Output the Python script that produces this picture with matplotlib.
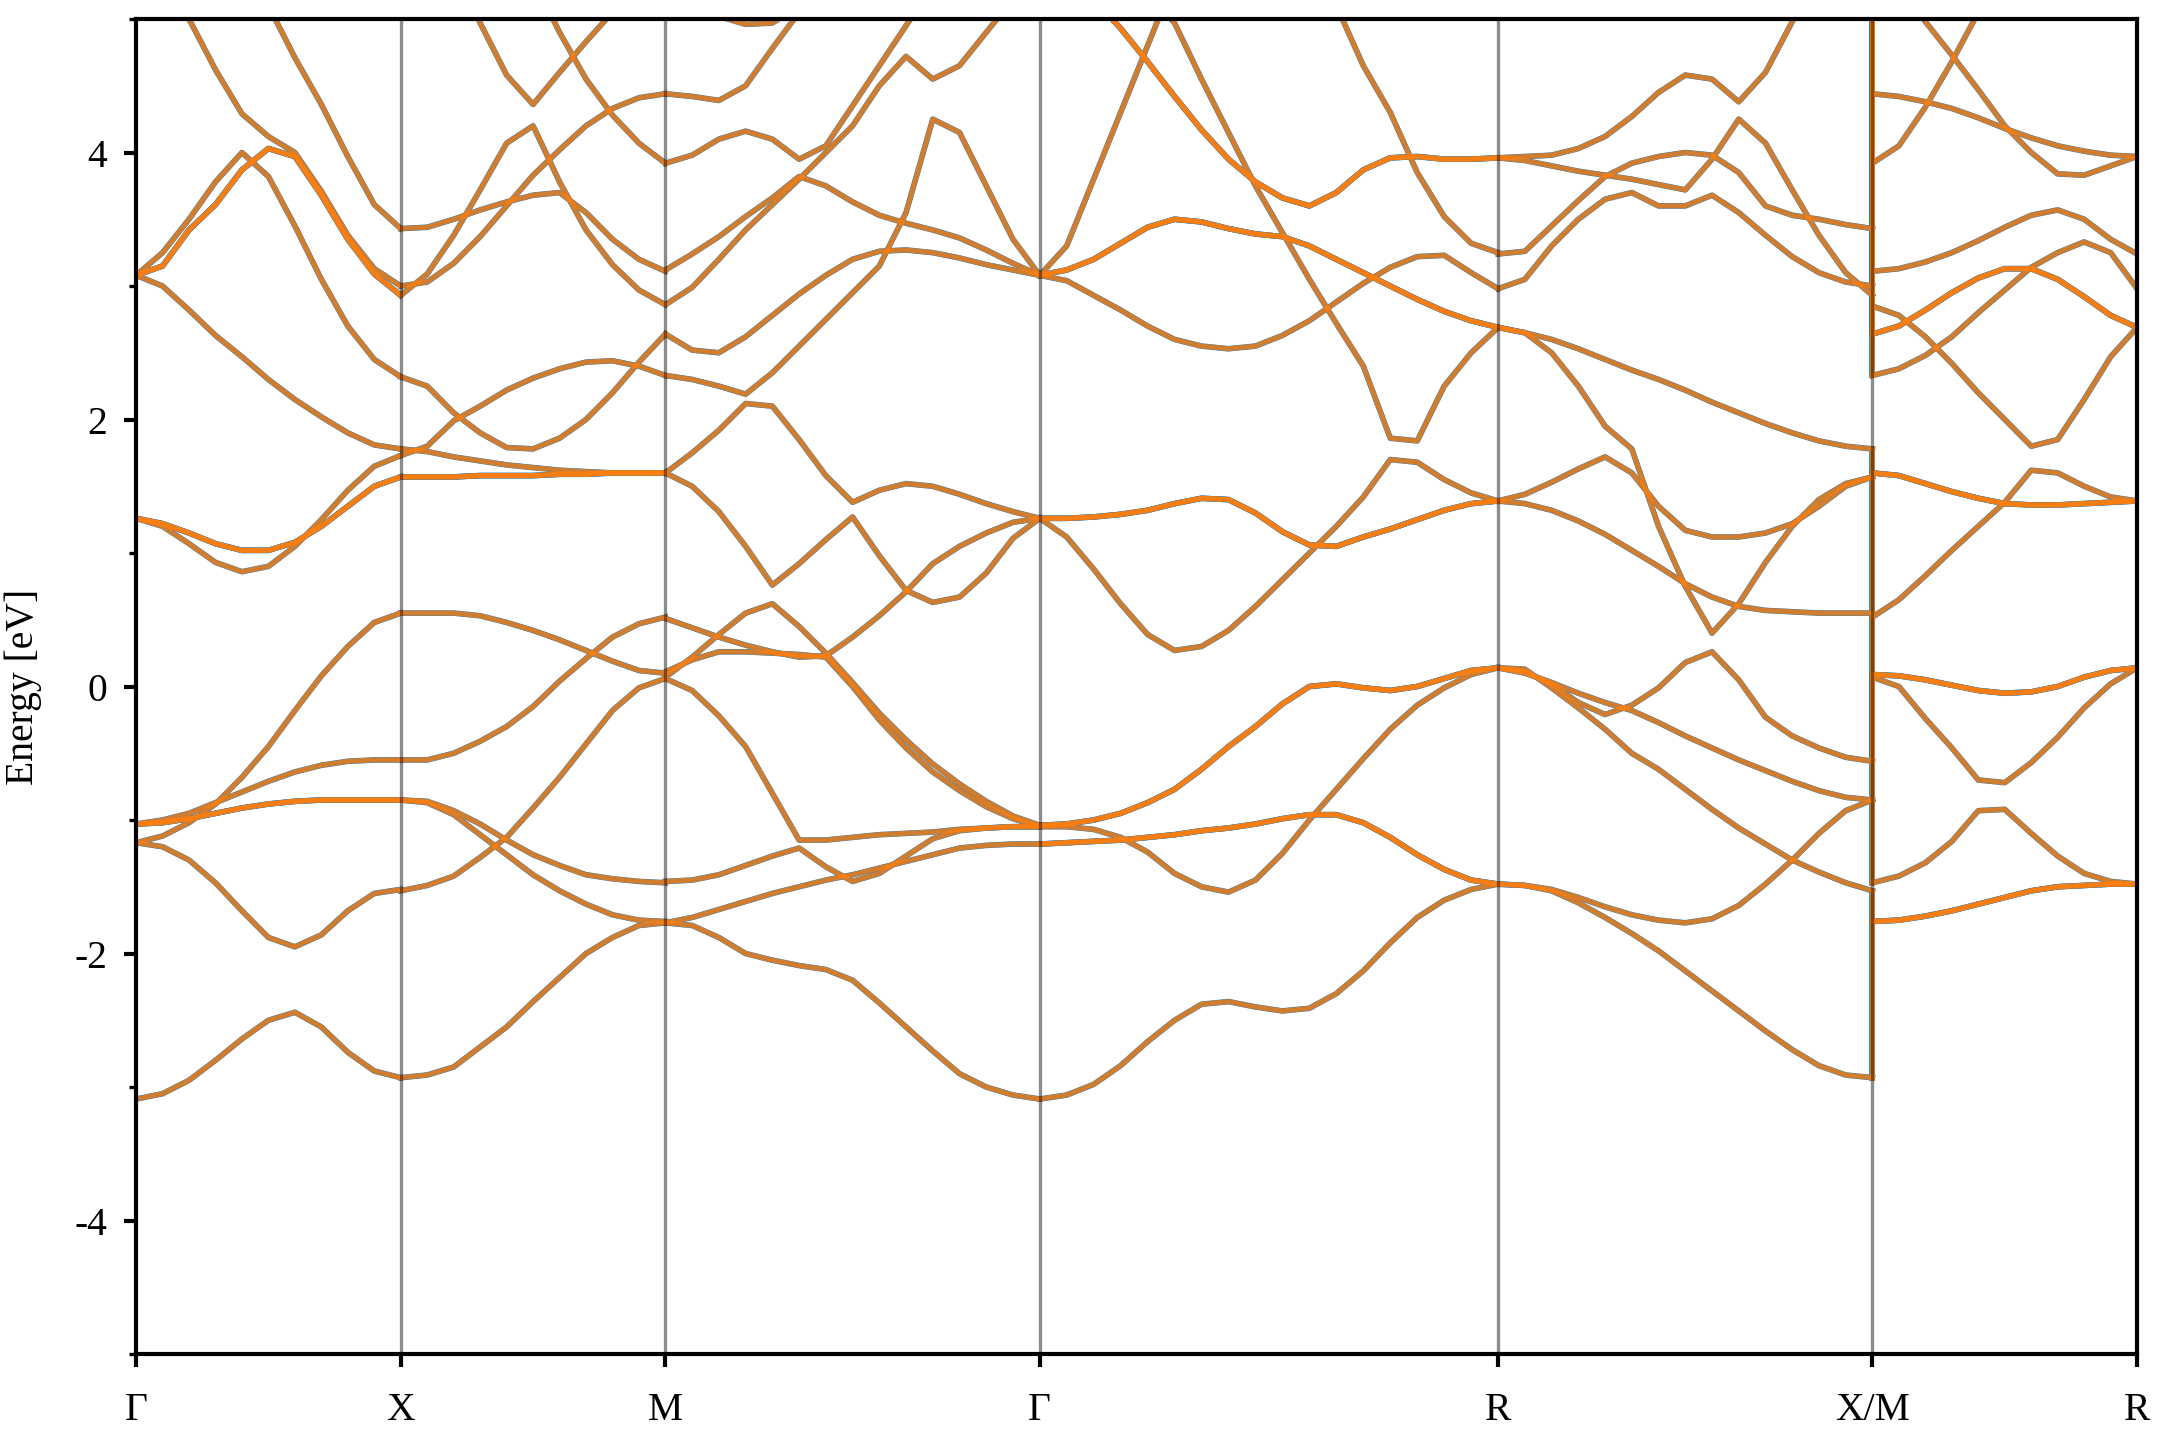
import numpy as np
import matplotlib.pyplot as plt

plt.rcParams['font.family'] = ['Liberation Serif', 'DejaVu Serif']
plt.rcParams['axes.unicode_minus'] = False

# k-path, segment lengths in units of |Gamma-X|
labels = ["Γ", "X", "M", "Γ", "R", "X/M", "R"]
seg_len = [1.0, 1.0, np.sqrt(2), np.sqrt(3), np.sqrt(2), 1.0]

# energies (eV) read along each segment, evenly spaced in k
gx = [
    [-3.09, -3.05, -2.95, -2.80, -2.64, -2.50, -2.44, -2.55, -2.74, -2.88, -2.93],
    [-1.17, -1.20, -1.30, -1.47, -1.68, -1.88, -1.95, -1.86, -1.68, -1.55, -1.52],
    [-1.17, -1.12, -1.02, -0.88, -0.68, -0.45, -0.18, 0.08, 0.30, 0.48, 0.55],
    [-1.03, -1.02, -0.99, -0.95, -0.91, -0.88, -0.86, -0.85, -0.85, -0.85, -0.85],
    [-1.03, -1.00, -0.95, -0.87, -0.79, -0.71, -0.64, -0.59, -0.56, -0.55, -0.55],
    [1.26, 1.20, 1.07, 0.93, 0.86, 0.90, 1.05, 1.25, 1.47, 1.65, 1.73],
    [1.26, 1.22, 1.15, 1.07, 1.02, 1.02, 1.08, 1.20, 1.35, 1.50, 1.57],
    [3.08, 3.00, 2.82, 2.63, 2.47, 2.30, 2.15, 2.02, 1.90, 1.81, 1.78],
    [3.08, 3.25, 3.50, 3.78, 4.00, 3.82, 3.45, 3.05, 2.70, 2.45, 2.32],
    [3.08, 3.15, 3.42, 3.61, 3.87, 4.03, 3.97, 3.68, 3.35, 3.09, 2.93],
    [5.90, 5.45, 5.00, 4.62, 4.29, 4.12, 4.00, 3.71, 3.38, 3.13, 3.00],
    [6.60, 6.20, 5.90, 5.60, 5.35, 5.10, 4.71, 4.36, 3.97, 3.61, 3.43],
]
gx_deg = [1, 1, 1, 2, 1, 1, 2, 1, 1, 2, 1, 1]

xm = [
    [-2.93, -2.91, -2.85, -2.70, -2.55, -2.36, -2.18, -2.00, -1.88, -1.79, -1.77],
    [-1.53, -1.49, -1.42, -1.28, -1.13, -0.91, -0.68, -0.43, -0.18, -0.01, 0.06],
    [-0.85, -0.86, -0.93, -1.03, -1.15, -1.26, -1.34, -1.41, -1.44, -1.46, -1.47],
    [-0.85, -0.87, -0.96, -1.11, -1.26, -1.41, -1.53, -1.63, -1.71, -1.75, -1.76],
    [-0.55, -0.55, -0.50, -0.41, -0.30, -0.15, 0.04, 0.21, 0.37, 0.47, 0.52],
    [0.55, 0.55, 0.55, 0.53, 0.48, 0.42, 0.35, 0.27, 0.19, 0.12, 0.10],
    [1.57, 1.57, 1.57, 1.58, 1.58, 1.58, 1.59, 1.59, 1.60, 1.60, 1.60],
    [1.78, 1.76, 1.72, 1.69, 1.66, 1.64, 1.62, 1.61, 1.60, 1.60, 1.60],
    [1.73, 1.80, 1.99, 2.10, 2.22, 2.31, 2.38, 2.43, 2.44, 2.40, 2.33],
    [2.32, 2.25, 2.05, 1.90, 1.79, 1.78, 1.86, 2.00, 2.20, 2.43, 2.64],
    [2.93, 3.09, 3.38, 3.72, 4.07, 4.20, 3.78, 3.42, 3.16, 2.97, 2.86],
    [3.00, 3.03, 3.17, 3.37, 3.60, 3.83, 4.02, 4.20, 4.33, 4.41, 4.44],
    [3.43, 3.44, 3.50, 3.57, 3.63, 3.68, 3.70, 3.55, 3.35, 3.20, 3.11],
    [6.00, 5.75, 5.45, 4.97, 4.58, 4.36, 4.60, 4.83, 5.05, 5.25, 5.45],
    [6.60, 6.40, 6.20, 5.90, 5.60, 5.30, 4.90, 4.55, 4.28, 4.07, 3.92],
]
xm_deg = [1, 1, 1, 1, 1, 1, 2, 1, 1, 1, 1, 1, 1, 1, 1]

mg = [
    [-1.77, -1.79, -1.88, -2.00, -2.05, -2.09, -2.12, -2.20, -2.37, -2.55, -2.73, -2.90, -3.00, -3.06, -3.09],
    [-1.77, -1.73, -1.67, -1.61, -1.55, -1.50, -1.45, -1.41, -1.36, -1.31, -1.26, -1.21, -1.19, -1.18, -1.18],
    [-1.46, -1.45, -1.41, -1.34, -1.27, -1.21, -1.35, -1.46, -1.40, -1.27, -1.14, -1.08, -1.06, -1.05, -1.05],
    [0.06, -0.03, -0.22, -0.45, -0.80, -1.15, -1.15, -1.13, -1.11, -1.10, -1.09, -1.07, -1.06, -1.05, -1.05],
    [0.51, 0.44, 0.37, 0.31, 0.26, 0.22, 0.23, 0.37, 0.53, 0.71, 0.92, 1.05, 1.15, 1.23, 1.26],
    [0.07, 0.22, 0.39, 0.55, 0.62, 0.45, 0.25, 0.03, -0.20, -0.40, -0.58, -0.73, -0.86, -0.97, -1.04],
    [0.11, 0.20, 0.26, 0.26, 0.25, 0.24, 0.22, 0.00, -0.25, -0.46, -0.64, -0.78, -0.90, -0.99, -1.05],
    [1.60, 1.50, 1.31, 1.05, 0.76, 0.92, 1.10, 1.27, 0.98, 0.72, 0.63, 0.67, 0.85, 1.11, 1.26],
    [1.60, 1.75, 1.92, 2.12, 2.10, 1.85, 1.58, 1.38, 1.47, 1.52, 1.50, 1.44, 1.37, 1.31, 1.26],
    [2.33, 2.30, 2.25, 2.19, 2.35, 2.55, 2.75, 2.95, 3.15, 3.55, 4.25, 4.15, 3.75, 3.35, 3.08],
    [2.64, 2.52, 2.50, 2.62, 2.78, 2.94, 3.08, 3.20, 3.26, 3.27, 3.25, 3.21, 3.16, 3.12, 3.08],
    [2.86, 2.99, 3.20, 3.42, 3.61, 3.80, 4.00, 4.20, 4.50, 4.72, 4.55, 4.65, 4.90, 5.15, 5.40],
    [5.50, 5.20, 5.02, 4.96, 4.97, 5.10, 5.30, 5.50, 5.70, 5.90, 6.10, 6.30, 6.40, 6.50, 6.60],
    [4.44, 4.42, 4.39, 4.50, 4.78, 5.05, 5.30, 5.50, 5.70, 5.90, 6.10, 6.20, 6.30, 6.40, 6.50],
    [3.92, 3.98, 4.10, 4.16, 4.10, 3.95, 4.05, 4.35, 4.65, 4.95, 5.25, 5.50, 5.70, 5.90, 6.10],
    [3.12, 3.24, 3.37, 3.52, 3.66, 3.82, 3.75, 3.63, 3.53, 3.47, 3.42, 3.36, 3.27, 3.17, 3.08],
]
mg_deg = [1] * len(mg)

gr = [
    [-3.09, -3.06, -2.98, -2.84, -2.66, -2.50, -2.38, -2.36, -2.40, -2.43, -2.41, -2.30, -2.13, -1.92, -1.73, -1.60, -1.52, -1.48],
    [-1.18, -1.17, -1.16, -1.15, -1.13, -1.11, -1.08, -1.06, -1.03, -0.99, -0.96, -0.96, -1.02, -1.13, -1.26, -1.37, -1.45, -1.48],
    [-1.05, -1.05, -1.07, -1.13, -1.24, -1.40, -1.50, -1.54, -1.45, -1.25, -1.00, -0.77, -0.54, -0.32, -0.14, -0.01, 0.09, 0.14],
    [-1.04, -1.03, -1.00, -0.95, -0.87, -0.77, -0.62, -0.45, -0.30, -0.13, 0.00, 0.02, -0.01, -0.03, 0.00, 0.06, 0.12, 0.14],
    [1.26, 1.26, 1.27, 1.29, 1.32, 1.37, 1.41, 1.40, 1.30, 1.16, 1.06, 1.05, 1.12, 1.18, 1.25, 1.32, 1.37, 1.39],
    [1.26, 1.12, 0.88, 0.62, 0.39, 0.27, 0.30, 0.42, 0.60, 0.80, 1.00, 1.20, 1.42, 1.70, 1.68, 1.55, 1.45, 1.39],
    [6.00, 5.80, 5.60, 5.40, 5.20, 4.97, 4.55, 4.15, 3.75, 3.40, 3.05, 2.72, 2.40, 1.86, 1.84, 2.25, 2.50, 2.69],
    [3.08, 3.12, 3.20, 3.32, 3.44, 3.50, 3.48, 3.43, 3.39, 3.37, 3.30, 3.20, 3.10, 3.00, 2.90, 2.81, 2.74, 2.69],
    [3.08, 3.04, 2.93, 2.82, 2.70, 2.60, 2.55, 2.53, 2.55, 2.63, 2.74, 2.88, 3.02, 3.14, 3.22, 3.23, 3.10, 2.98],
    [3.08, 3.30, 3.80, 4.30, 4.80, 5.30, 5.70, 6.10, 6.40, 6.60, 6.80, 7.00, 7.00, 7.00, 7.00, 7.00, 7.00, 7.00],
    [5.70, 5.45, 5.15, 4.93, 4.68, 4.42, 4.17, 3.95, 3.78, 3.66, 3.60, 3.70, 3.87, 3.96, 3.97, 3.95, 3.95, 3.96],
    [7.00, 7.00, 7.00, 7.00, 7.00, 6.80, 6.60, 6.40, 6.10, 5.80, 5.45, 5.10, 4.65, 4.30, 3.85, 3.52, 3.32, 3.25],
]
gr_deg = [1, 2, 1, 2, 2, 1, 1, 2, 1, 1, 2, 1]

rx = [
    [-1.48, -1.49, -1.53, -1.62, -1.73, -1.85, -1.98, -2.13, -2.28, -2.43, -2.58, -2.72, -2.84, -2.91, -2.93],
    [-1.48, -1.49, -1.52, -1.58, -1.65, -1.71, -1.75, -1.77, -1.74, -1.64, -1.48, -1.30, -1.10, -0.93, -0.85],
    [0.14, 0.11, 0.02, -0.12, -0.21, -0.14, -0.01, 0.18, 0.26, 0.05, -0.23, -0.37, -0.46, -0.53, -0.56],
    [0.14, 0.13, -0.01, -0.16, -0.32, -0.50, -0.62, -0.77, -0.92, -1.06, -1.18, -1.30, -1.39, -1.47, -1.53],
    [0.14, 0.10, 0.03, -0.05, -0.12, -0.18, -0.27, -0.37, -0.46, -0.55, -0.63, -0.71, -0.78, -0.83, -0.85],
    [1.39, 1.44, 1.53, 1.63, 1.72, 1.60, 1.35, 1.17, 1.12, 1.12, 1.15, 1.22, 1.35, 1.50, 1.57],
    [1.39, 1.37, 1.32, 1.24, 1.14, 1.02, 0.90, 0.77, 0.67, 0.60, 0.57, 0.56, 0.55, 0.55, 0.55],
    [2.69, 2.65, 2.50, 2.25, 1.95, 1.78, 1.20, 0.75, 0.40, 0.62, 0.93, 1.20, 1.40, 1.52, 1.57],
    [2.69, 2.65, 2.60, 2.53, 2.45, 2.37, 2.30, 2.22, 2.13, 2.05, 1.97, 1.90, 1.84, 1.80, 1.78],
    [2.98, 3.05, 3.30, 3.50, 3.65, 3.70, 3.60, 3.60, 3.68, 3.55, 3.38, 3.22, 3.10, 3.03, 3.00],
    [3.24, 3.26, 3.45, 3.64, 3.82, 3.92, 3.97, 4.00, 3.98, 3.85, 3.60, 3.53, 3.50, 3.46, 3.43],
    [3.96, 3.94, 3.90, 3.86, 3.83, 3.80, 3.76, 3.72, 3.95, 4.25, 4.07, 3.72, 3.38, 3.10, 2.93],
    [3.96, 3.97, 3.98, 4.03, 4.12, 4.27, 4.45, 4.58, 4.55, 4.38, 4.60, 4.98, 5.30, 5.60, 5.90],
]
rx_deg = [1] * len(rx)

mr = [
    [-1.76, -1.75, -1.72, -1.68, -1.63, -1.58, -1.53, -1.50, -1.49, -1.48, -1.48],
    [-1.47, -1.42, -1.32, -1.16, -0.93, -0.92, -1.10, -1.27, -1.40, -1.46, -1.48],
    [0.07, 0.00, -0.24, -0.46, -0.70, -0.72, -0.57, -0.38, -0.16, 0.02, 0.14],
    [0.09, 0.08, 0.05, 0.01, -0.03, -0.05, -0.04, 0.00, 0.07, 0.12, 0.14],
    [0.52, 0.65, 0.83, 1.02, 1.20, 1.38, 1.62, 1.60, 1.50, 1.42, 1.39],
    [1.60, 1.58, 1.52, 1.46, 1.41, 1.37, 1.36, 1.36, 1.37, 1.38, 1.39],
    [2.33, 2.38, 2.48, 2.62, 2.80, 2.97, 3.14, 3.25, 3.33, 3.25, 2.98],
    [2.64, 2.70, 2.82, 2.95, 3.06, 3.13, 3.13, 3.05, 2.92, 2.78, 2.69],
    [2.85, 2.78, 2.62, 2.42, 2.20, 2.00, 1.80, 1.85, 2.15, 2.47, 2.69],
    [3.11, 3.13, 3.18, 3.25, 3.34, 3.44, 3.53, 3.57, 3.50, 3.35, 3.24],
    [3.92, 4.05, 4.34, 4.68, 5.05, 5.40, 5.70, 6.00, 6.20, 6.40, 6.50],
    [4.44, 4.42, 4.38, 4.33, 4.26, 4.18, 4.11, 4.05, 4.01, 3.98, 3.97],
    [5.60, 5.25, 4.98, 4.73, 4.47, 4.20, 4.00, 3.84, 3.83, 3.90, 3.97],
]
mr_deg = [2, 1, 1, 2, 1, 2, 1, 2, 1, 1, 1, 1, 1]

segments = [(gx, gx_deg), (xm, xm_deg), (mg, mg_deg), (gr, gr_deg), (rx, rx_deg), (mr, mr_deg)]
nodes = np.concatenate([[0.0], np.cumsum(seg_len)])

fig = plt.figure(figsize=(7.2, 4.8), dpi=300)
ax = fig.add_axes([0.063, 0.0597, 0.9264, 0.9271])

# the X|M jump: bands are joined by vertical pieces (sorted band index)
x_end = sorted(e[-1] for b, d in zip(rx, rx_deg) for e in [b] * d)
m_start = sorted(e[0] for b, d in zip(mr, mr_deg) for e in [b] * d)
n = max(len(x_end), len(m_start))
x_end += [7.0] * (n - len(x_end))
m_start += [7.0] * (n - len(m_start))

for color, lw, alpha in [("#1f77b4", 1.35, 1.0), ("#ff7f0e", 1.2, 0.8)]:
    for i, (bands, deg) in enumerate(segments):
        for e, d in zip(bands, deg):
            k = np.linspace(nodes[i], nodes[i + 1], len(e))
            for _ in range(d):
                ax.plot(k, e, color=color, lw=lw, alpha=alpha, zorder=2)
    for a, b in zip(x_end, m_start):
        ax.plot([nodes[5], nodes[5]], [a, b], color=color, lw=lw, alpha=alpha, zorder=2)

for x in nodes[1:-1]:
    ax.axvline(x, color="k", lw=0.8, alpha=0.45, zorder=3)

ax.set_xlim(nodes[0], nodes[-1])
ax.set_ylim(-5, 5)
ax.set_xticks(nodes)
ax.set_xticklabels(labels)
ax.set_yticks([-4, -2, 0, 2, 4])
ax.set_yticks([-5, -3, -1, 1, 3, 5], minor=True)
ax.tick_params(labelsize=9.5, width=1.0, length=3.0, pad=4)
ax.tick_params(axis="x", pad=6)
ax.tick_params(which="minor", width=0.8, length=1.8)
ax.set_ylabel("Energy [eV]", fontsize=9.5)
ax.yaxis.set_label_coords(-0.047, 0.5)
for s in ax.spines.values():
    s.set_linewidth(1.0)

fig.savefig("out.png", dpi=300)
